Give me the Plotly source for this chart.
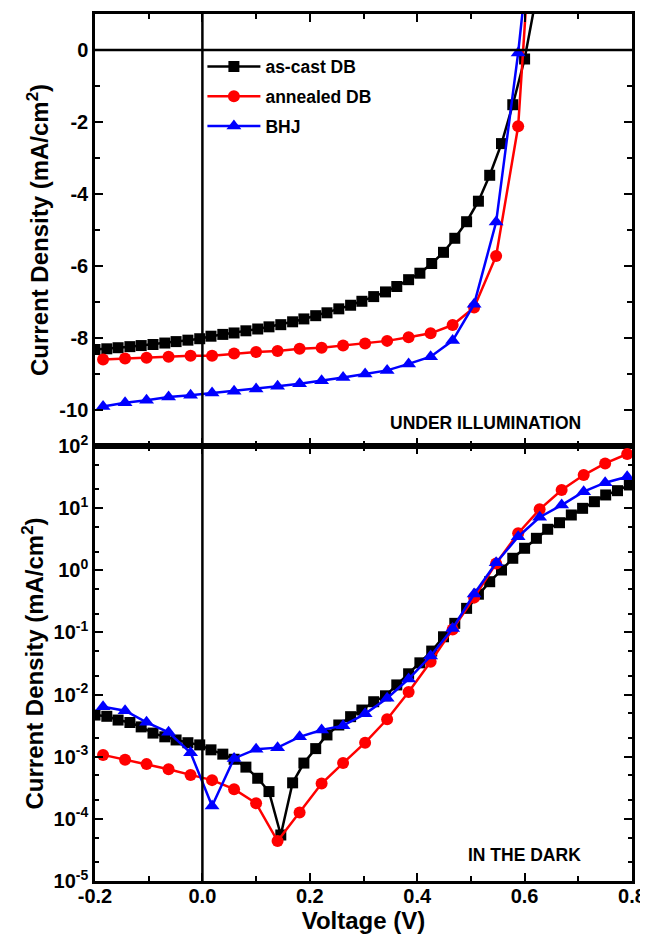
import plotly.graph_objects as go

# ---------------- data ----------------
# as-cast DB (black squares)
V_CAST = [-0.200, -0.178, -0.157, -0.135, -0.114, -0.092, -0.070, -0.049, -0.027, -0.005,
          0.016, 0.038, 0.059, 0.081, 0.103, 0.124, 0.146, 0.168, 0.189, 0.211,
          0.232, 0.254, 0.276, 0.297, 0.319, 0.341, 0.362, 0.384, 0.405, 0.427,
          0.449, 0.470, 0.492, 0.514, 0.535, 0.557, 0.578, 0.600, 0.622, 0.643,
          0.665, 0.687, 0.708, 0.730, 0.751, 0.773, 0.795]
J_CAST_LIGHT = [-8.32, -8.30, -8.27, -8.24, -8.21, -8.18, -8.14, -8.10, -8.06, -8.02,
                -7.95, -7.90, -7.86, -7.80, -7.75, -7.69, -7.63, -7.55, -7.47, -7.38,
                -7.30, -7.19, -7.09, -6.98, -6.85, -6.72, -6.57, -6.38, -6.20, -5.93,
                -5.62, -5.23, -4.77, -4.20, -3.48, -2.60, -1.52, -0.25, 1.5]
J_CAST_DARK = [4.68e-3, 4.47e-3, 3.89e-3, 3.55e-3, 3.02e-3, 2.40e-3, 2.09e-3, 1.86e-3, 1.68e-3, 1.55e-3,
               1.29e-3, 1.10e-3, 9.1e-4, 6.8e-4, 4.5e-4, 2.75e-4, 5.5e-5, 3.8e-4, 7.9e-4, 1.35e-3,
               2.24e-3, 3.24e-3, 4.41e-3, 5.64e-3, 7.67e-3, 9.55e-3, 1.43e-2, 2.16e-2, 3.24e-2, 5.01e-2,
               8.51e-2, 0.140, 0.244, 0.412, 0.655, 1.01, 1.56, 2.26, 3.27, 4.57,
               5.83, 7.76, 9.93, 12.7, 16.3, 19.1, 23.6]

# annealed DB (red circles) and BHJ (blue triangles) share the voltage grid
V_RB = [-0.185, -0.144, -0.104, -0.063, -0.022, 0.018, 0.059, 0.100, 0.140, 0.181,
        0.222, 0.262, 0.303, 0.344, 0.384, 0.425, 0.466, 0.506, 0.547, 0.588,
        0.628, 0.669, 0.710, 0.750, 0.791]
J_ANN_LIGHT = [-8.60, -8.57, -8.55, -8.52, -8.49, -8.49, -8.43, -8.39, -8.36, -8.30,
               -8.27, -8.21, -8.15, -8.08, -7.98, -7.87, -7.64, -7.15, -5.72, -2.12, 7.0]
J_ANN_DARK = [1.07e-3, 8.9e-4, 7.6e-4, 6.3e-4, 5.1e-4, 4.2e-4, 3.0e-4, 1.78e-4, 4.4e-5, 1.27e-4,
              3.7e-4, 7.9e-4, 1.68e-3, 4.0e-3, 1.10e-2, 3.38e-2, 0.111, 0.363, 1.29, 3.94,
              9.57, 19.6, 34.1, 52.5, 74.3]
J_BHJ_LIGHT = [-9.90, -9.80, -9.73, -9.64, -9.59, -9.53, -9.48, -9.42, -9.34, -9.27,
               -9.19, -9.10, -9.00, -8.90, -8.72, -8.52, -8.07, -7.06, -4.78, -0.08, 5.5]
J_BHJ_DARK = [6.38e-3, 5.50e-3, 3.57e-3, 2.47e-3, 1.16e-3, 1.61e-4, 9.4e-4, 1.32e-3, 1.40e-3, 2.09e-3,
              2.69e-3, 3.16e-3, 4.90e-3, 8.71e-3, 1.78e-2, 4.17e-2, 0.116, 0.415, 1.32, 3.47,
              7.13, 11.2, 18.4, 25.7, 32.1]

NAMES = ["as-cast DB", "annealed DB", "BHJ"]
X_TICKS = [-0.2, 0.0, 0.2, 0.4, 0.6, 0.8]
X_TICKTEXT = ["-0.2", "0.0", "0.2", "0.4", "0.6", "0.8"]
Y_TOP_TICKS = [-10, -8, -6, -4, -2, 0]
Y_TOP_TICKTEXT = ["-10", "-8", "-6", "-4", "-2", "0"]
Y_LOG_TICKS = [1e-5, 1e-4, 1e-3, 1e-2, 1e-1, 1e0, 1e1, 1e2]
Y_LOG_TICKTEXT = ["10<sup>-5</sup>", "10<sup>-4</sup>", "10<sup>-3</sup>", "10<sup>-2</sup>",
                  "10<sup>-1</sup>", "10<sup>0</sup>", "10<sup>1</sup>", "10<sup>2</sup>"]

FONT = "Liberation Sans, Arial, sans-serif"
TICK_FONT = dict(size=20, family=FONT, weight="bold")
TITLE_FONT = dict(size=24, family=FONT, weight="bold")
styles = [
    dict(color="#000000", symbol="square", size=11),
    dict(color="#ff0000", symbol="circle", size=12),
    dict(color="#0000ff", symbol="triangle-up", size=13),
]

fig = go.Figure()
light = [(V_CAST, J_CAST_LIGHT), (V_RB, J_ANN_LIGHT), (V_RB, J_BHJ_LIGHT)]
dark = [(V_CAST, J_CAST_DARK), (V_RB, J_ANN_DARK), (V_RB, J_BHJ_DARK)]

for i, (name, st, (vx, vy)) in enumerate(zip(NAMES, styles, light)):
    fig.add_trace(go.Scatter(
        x=vx[:len(vy)], y=vy, mode="lines+markers", name=name, legendgroup=f"g{i}",
        line=dict(color=st["color"], width=2.5),
        marker=dict(color=st["color"], symbol=st["symbol"], size=st["size"]),
        xaxis="x", yaxis="y", showlegend=True))
for i, (name, st, (vx, vy)) in enumerate(zip(NAMES, styles, dark)):
    fig.add_trace(go.Scatter(
        x=vx[:len(vy)], y=vy, mode="lines+markers", name=name, legendgroup=f"g{i}",
        line=dict(color=st["color"], width=2.5),
        marker=dict(color=st["color"], symbol=st["symbol"], size=st["size"]),
        xaxis="x2", yaxis="y2", showlegend=False))

split = 435 / 867
common_x = dict(range=[-0.2, 0.8], ticks="inside", ticklen=8, tickwidth=2, tickcolor="black",
                showline=True, linewidth=2.5, linecolor="black", mirror="ticks",
                showgrid=False, zeroline=False, automargin=False,
                tickvals=X_TICKS, ticktext=X_TICKTEXT,
                minor=dict(ticks="inside", ticklen=5, tickwidth=2, tickcolor="black", dtick=0.1,
                           tick0=-0.2, showgrid=False))

# the page body adds an 8 px offset; the figure is sized to fill the rest of the window
fig.update_layout(
    width=640, height=937,
    margin=dict(l=87, r=16, t=6, b=64),
    paper_bgcolor="white", plot_bgcolor="white",
    font=dict(family=FONT, color="black"),
    xaxis=dict(common_x, domain=[0, 1], anchor="y", showticklabels=False),
    yaxis=dict(domain=[split, 1], anchor="x", range=[-11, 1], automargin=False,
               tickvals=Y_TOP_TICKS, ticktext=Y_TOP_TICKTEXT,
               ticks="inside", ticklen=8, tickwidth=2, tickcolor="black",
               showline=True, linewidth=2.5, linecolor="black", mirror="ticks",
               showgrid=False, zeroline=False, tickfont=TICK_FONT,
               minor=dict(ticks="inside", ticklen=5, tickwidth=2, tickcolor="black",
                          dtick=1, tick0=-11, showgrid=False),
               title=dict(text="Current Density (mA/cm<sup>2</sup>)", font=TITLE_FONT, standoff=4)),
    xaxis2=dict(common_x, domain=[0, 1], anchor="y2", tickfont=TICK_FONT,
                ticklabelstandoff=-5,
                title=dict(text="Voltage (V)", font=TITLE_FONT, standoff=0)),
    yaxis2=dict(domain=[0, split], anchor="x2", type="log", range=[-5, 2], automargin=False,
                tickvals=Y_LOG_TICKS, ticktext=Y_LOG_TICKTEXT,
                ticks="inside", ticklen=8, tickwidth=2, tickcolor="black",
                showline=True, linewidth=2.5, linecolor="black", mirror="ticks",
                showgrid=False, zeroline=False, tickfont=TICK_FONT,
                minor=dict(ticks="inside", ticklen=4, tickwidth=1.5, tickcolor="black",
                           showgrid=False),
                title=dict(text="Current Density (mA/cm<sup>2</sup>)", font=TITLE_FONT, standoff=4)),
    legend=dict(x=0.2, y=0.96, xanchor="left", yanchor="top",
                bgcolor="rgba(0,0,0,0)", borderwidth=0,
                font=dict(size=17.5, family=FONT, weight="bold"),
                itemwidth=53, tracegroupgap=4),
    showlegend=True,
)

# zero reference lines
fig.add_shape(type="line", xref="x", yref="paper", x0=0, x1=0, y0=0, y1=1,
              line=dict(color="black", width=2.5))
fig.add_shape(type="line", xref="paper", yref="y", x0=0, x1=1, y0=0, y1=0,
              line=dict(color="black", width=2.5))

fig.add_annotation(text="UNDER ILLUMINATION", xref="x", yref="y", x=0.528, y=-10.35,
                   showarrow=False, font=dict(size=17.5, family=FONT, weight="bold"))
fig.add_annotation(text="IN THE DARK", xref="x2", yref="y2", x=0.60, y=-4.58,
                   showarrow=False, font=dict(size=17.5, family=FONT, weight="bold"))

fig.write_html("out.html")
